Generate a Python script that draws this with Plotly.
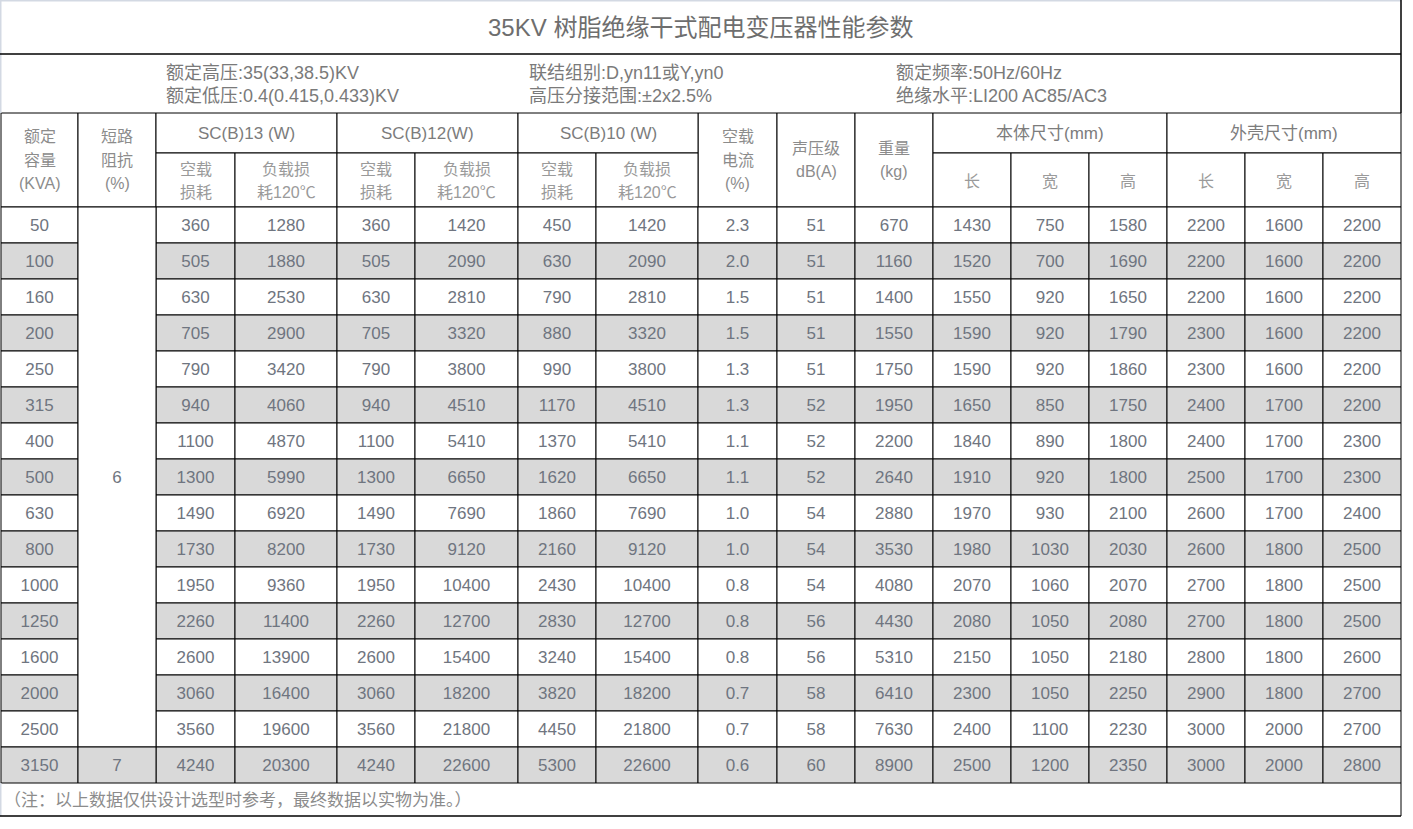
import plotly.graph_objects as go

# ---- data ----
capacity = [50, 100, 160, 200, 250, 315, 400, 500, 630, 800, 1000, 1250, 1600, 2000, 2500, 3150]
impedance = ["6", "7"]  # 6 for 50..2500, 7 for 3150
sc13_noload = [360, 505, 630, 705, 790, 940, 1100, 1300, 1490, 1730, 1950, 2260, 2600, 3060, 3560, 4240]
sc13_load = [1280, 1880, 2530, 2900, 3420, 4060, 4870, 5990, 6920, 8200, 9360, 11400, 13900, 16400, 19600, 20300]
sc12_noload = [360, 505, 630, 705, 790, 940, 1100, 1300, 1490, 1730, 1950, 2260, 2600, 3060, 3560, 4240]
sc12_load = [1420, 2090, 2810, 3320, 3800, 4510, 5410, 6650, 7690, 9120, 10400, 12700, 15400, 18200, 21800, 22600]
sc10_noload = [450, 630, 790, 880, 990, 1170, 1370, 1620, 1860, 2160, 2430, 2830, 3240, 3820, 4450, 5300]
sc10_load = [1420, 2090, 2810, 3320, 3800, 4510, 5410, 6650, 7690, 9120, 10400, 12700, 15400, 18200, 21800, 22600]
noload_current = ["2.3", "2.0", "1.5", "1.5", "1.3", "1.3", "1.1", "1.1", "1.0", "1.0", "0.8", "0.8", "0.8", "0.7", "0.7", "0.6"]
noise_db = [51, 51, 51, 51, 51, 52, 52, 52, 54, 54, 54, 56, 56, 58, 58, 60]
weight_kg = [670, 1160, 1400, 1550, 1750, 1950, 2200, 2640, 2880, 3530, 4080, 4430, 5310, 6410, 7630, 8900]
body_len = [1430, 1520, 1550, 1590, 1590, 1650, 1840, 1910, 1970, 1980, 2070, 2080, 2150, 2300, 2400, 2500]
body_wid = [750, 700, 920, 920, 920, 850, 890, 920, 930, 1030, 1060, 1050, 1050, 1050, 1100, 1200]
body_hgt = [1580, 1690, 1650, 1790, 1860, 1750, 1800, 1800, 2100, 2030, 2070, 2080, 2180, 2250, 2230, 2350]
case_len = [2200, 2200, 2200, 2300, 2300, 2400, 2400, 2500, 2600, 2600, 2700, 2700, 2800, 2900, 3000, 3000]
case_wid = [1600, 1600, 1600, 1600, 1600, 1700, 1700, 1700, 1700, 1800, 1800, 1800, 1800, 1800, 2000, 2000]
case_hgt = [2200, 2200, 2200, 2200, 2200, 2200, 2300, 2300, 2400, 2500, 2500, 2500, 2600, 2700, 2700, 2800]

title = "35KV 树脂绝缘干式配电变压器性能参数"
info_cols = [
    ["额定高压:35(33,38.5)KV", "额定低压:0.4(0.415,0.433)KV"],
    ["联结组别:D,yn11或Y,yn0", "高压分接范围:±2x2.5%"],
    ["额定频率:50Hz/60Hz", "绝缘水平:LI200 AC85/AC3"],
]
note = "（注：以上数据仅供设计选型时参考，最终数据以实物为准。）"

# ---- layout constants (pixels) ----
W, H = 1413, 829
col_x = [1, 78, 156, 235, 337, 415, 518, 596, 698, 777, 855, 933, 1011, 1089, 1167, 1245, 1323, 1401]
y_info, y_h1, y_h2, y_data = 54, 113, 153, 207
row_h = 36
y_end = y_data + row_h * len(capacity)
y_note = 816
info_x = [164, 527, 894]
line_gap = 23.5

TXT = "#6f7580"
HDR = "#8c8c8c"
GRAY_ROW = "#d9d9d9"
LINE = "#000000"
FRAME = "#d3d9e3"
FONT = "Liberation Sans, Arial, Noto Sans CJK SC, sans-serif"

shapes, annos = [], []


def rect(x0, y0, x1, y1, fill="white", line=LINE, lw=1):
    shapes.append(dict(type="rect", xref="x", yref="y", x0=x0, y0=y0, x1=x1, y1=y1,
                       fillcolor=fill, line=dict(color=line, width=lw), layer="below"))


def hline(x0, x1, y, color=LINE, lw=1):
    shapes.append(dict(type="line", x0=x0, x1=x1, y0=y, y1=y, line=dict(color=color, width=lw)))


def vline(x, y0, y1, color=LINE, lw=1):
    shapes.append(dict(type="line", x0=x, x1=x, y0=y0, y1=y1, line=dict(color=color, width=lw)))


def text(x, y, s, size=17, color=HDR, xanchor="center"):
    annos.append(dict(x=x, y=y, xref="x", yref="y", text=s, showarrow=False,
                      xanchor=xanchor, yanchor="middle",
                      font=dict(size=size, color=color, family=FONT)))


def multiline(x, yc, lines, size=16, color=HDR):
    top = yc - line_gap * (len(lines) - 1) / 2
    for i, s in enumerate(lines):
        text(x, top + i * line_gap, s, size=size, color=color)


# title + info box (light frame on left/top)
hline(0, col_x[-1], 0.5, FRAME, 2)
vline(0.5, 0, y_h1, FRAME, 2)
vline(col_x[-1], 0, y_h1, LINE, 1.5)
hline(0, col_x[-1], y_info, LINE, 1.5)
text(700, 27, title, size=24, color="#6e6e6e")
for cx, pair in zip(info_x, info_cols):
    text(cx, 73, pair[0], size=18, color="#7a7a7a", xanchor="left")
    text(cx, 96, pair[1], size=18, color="#7a7a7a", xanchor="left")

# header cells
span_cols = {0: ["额定", "容量", "(KVA)"], 1: ["短路", "阻抗", "(%)"], 8: ["空载", "电流", "(%)"],
             9: ["声压级", "dB(A)"], 10: ["重量", "(kg)"]}
for c, lines in span_cols.items():
    rect(col_x[c], y_h1, col_x[c + 1], y_data)
    multiline((col_x[c] + col_x[c + 1]) / 2, (y_h1 + y_data) / 2, lines)

loss_subs = [["空载", "损耗"], ["负载损", "耗120℃"]]
groups = [(2, 4, "SC(B)13 (W)", loss_subs),
          (4, 6, "SC(B)12(W)", loss_subs),
          (6, 8, "SC(B)10 (W)", loss_subs),
          (11, 14, "本体尺寸(mm)", [["长"], ["宽"], ["高"]]),
          (14, 17, "外壳尺寸(mm)", [["长"], ["宽"], ["高"]])]
for c0, c1, label, subs in groups:
    rect(col_x[c0], y_h1, col_x[c1], y_h2)
    text((col_x[c0] + col_x[c1]) / 2, (y_h1 + y_h2) / 2, label, color="#7c7c7c")
    for k, lines in enumerate(subs):
        c = c0 + k
        rect(col_x[c], y_h2, col_x[c + 1], y_data)
        multiline((col_x[c] + col_x[c + 1]) / 2, (y_h2 + y_data) / 2 + 1, lines, color="#9a9a9a")

# data cells
columns = [capacity, None, sc13_noload, sc13_load, sc12_noload, sc12_load, sc10_noload, sc10_load,
           noload_current, noise_db, weight_kg, body_len, body_wid, body_hgt, case_len, case_wid, case_hgt]
n = len(capacity)
tx, ty, tt = [], [], []
for r in range(n):
    y0 = y_data + r * row_h
    fill = GRAY_ROW if r % 2 == 1 else "white"
    for c, vals in enumerate(columns):
        if vals is None:
            continue
        rect(col_x[c], y0, col_x[c + 1], y0 + row_h, fill=fill)
        tx.append((col_x[c] + col_x[c + 1]) / 2)
        ty.append(y0 + row_h / 2 + 2)
        tt.append(str(vals[r]))

# merged impedance cells
rect(col_x[1], y_data, col_x[2], y_data + row_h * (n - 1), fill="white")
tx.append((col_x[1] + col_x[2]) / 2); ty.append(y_data + row_h * (n - 1) / 2 + 2); tt.append(impedance[0])
rect(col_x[1], y_data + row_h * (n - 1), col_x[2], y_end, fill=GRAY_ROW)
tx.append((col_x[1] + col_x[2]) / 2); ty.append(y_data + row_h * (n - 0.5) + 2); tt.append(impedance[1])

# note row
vline(0.5, y_end, y_note, FRAME, 2)
vline(col_x[-1], y_end, y_note, LINE, 1)
hline(0, col_x[-1], y_note, LINE, 1.5)
text(2, 800, note, size=17, color="#8c8c8c", xanchor="left")

fig = go.Figure(go.Scatter(x=tx, y=ty, text=tt, mode="text", hoverinfo="skip",
                           textfont=dict(size=17, color=TXT, family=FONT)))
fig.update_layout(
    width=W, height=H,
    margin=dict(l=0, r=0, t=0, b=0),
    plot_bgcolor="white", paper_bgcolor="white",
    xaxis=dict(range=[0, W], visible=False, fixedrange=True),
    yaxis=dict(range=[H, 0], visible=False, fixedrange=True),
    shapes=shapes, annotations=annos, showlegend=False,
)
fig.write_html("out.html", config={"displayModeBar": False},
               post_script="document.body.style.margin='0';document.body.style.overflow='hidden';")
